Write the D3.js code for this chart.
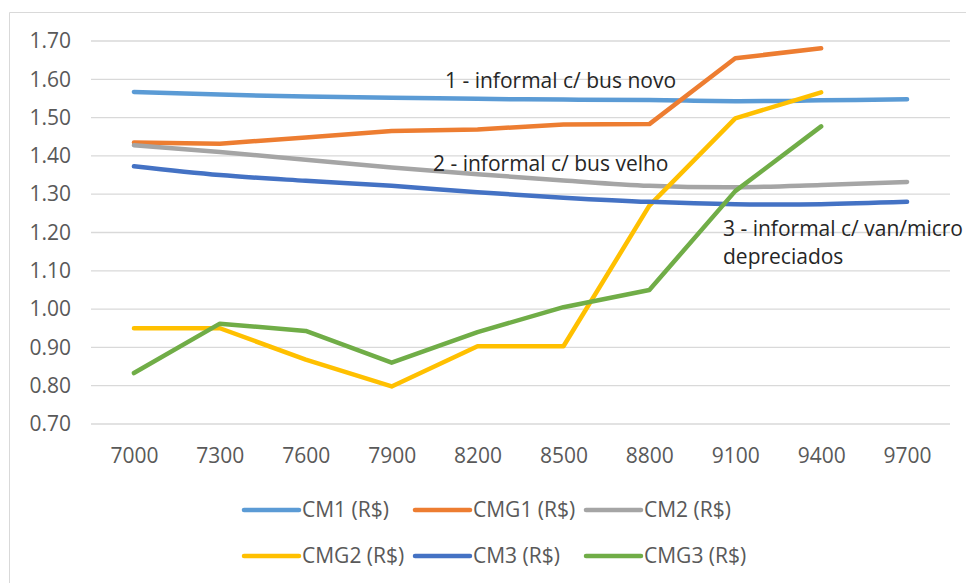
<!DOCTYPE html>
<html>
<head>
<meta charset="utf-8">
<script src="https://cdn.jsdelivr.net/npm/d3@7"></script>
<style>
  html, body { margin: 0; padding: 0; background: #ffffff; }
  svg { display: block; }
  text { font-family: "Open Sans", "Noto Sans", sans-serif; }
</style>
</head>
<body>
<svg id="chart" width="966" height="583"></svg>
<script>
// Renda (R$) no eixo horizontal
const categories = ["7000", "7300", "7600", "7900", "8200", "8500", "8800", "9100", "9400", "9700"];

// Custos médios e marginais por cenário (R$)
const cm1  = [1.567, 1.560, 1.555, 1.552, 1.549, 1.547, 1.546, 1.543, 1.545, 1.548];
const cmg1 = [1.435, 1.432, 1.448, 1.465, 1.469, 1.482, 1.483, 1.655, 1.681, null];
const cm2  = [1.428, 1.410, 1.390, 1.370, 1.352, 1.336, 1.322, 1.318, 1.324, 1.332];
const cmg2 = [0.950, 0.950, 0.868, 0.798, 0.903, 0.903, 1.270, 1.498, 1.566, null];
const cm3  = [1.373, 1.350, 1.335, 1.322, 1.305, 1.291, 1.280, 1.274, 1.274, 1.280];
const cmg3 = [0.833, 0.962, 0.943, 0.860, 0.940, 1.005, 1.050, 1.308, 1.477, null];

const yTicks = [0.70, 0.80, 0.90, 1.00, 1.10, 1.20, 1.30, 1.40, 1.50, 1.60, 1.70];

const seriesNames = ["CM1 (R$)", "CMG1 (R$)", "CM2 (R$)", "CMG2 (R$)", "CM3 (R$)", "CMG3 (R$)"];
const seriesValues = [cm1, cmg1, cm2, cmg2, cm3, cmg3];
const seriesColors = ["#5B9BD5", "#ED7D31", "#A5A5A5", "#FFC000", "#4472C4", "#70AD47"];
const seriesSmooth = [true, false, true, false, true, false];

const annotations = [
  { lines: ["1 - informal c/ bus novo"], x: 445, y: 88 },
  { lines: ["2 - informal c/ bus velho"], x: 433, y: 171 },
  { lines: ["3 - informal c/ van/micro", "depreciados"], x: 723, y: 236 }
];

const svg = d3.select("#chart");

// chart frame
svg.append("path")
  .attr("d", "M9.5,583 V12.5 H966")
  .attr("fill", "none")
  .attr("stroke", "#d9d9d9")
  .attr("stroke-width", 1);

const x = d3.scalePoint().domain(categories).range([91, 950]).padding(0.5);
const y = d3.scaleLinear().domain([0.70, 1.70]).range([424, 41]);

// gridlines
svg.append("g")
  .selectAll("line")
  .data(yTicks)
  .join("line")
  .attr("x1", 91).attr("x2", 950)
  .attr("y1", d => y(d)).attr("y2", d => y(d))
  .attr("stroke", "#d9d9d9")
  .attr("stroke-width", 1.3);

// y axis labels
const yAxis = d3.axisLeft(y).tickValues(yTicks).tickFormat(d3.format(".2f")).tickSize(0).tickPadding(0);
svg.append("g")
  .attr("transform", "translate(71,0)")
  .call(yAxis)
  .call(g => g.select(".domain").remove())
  .call(g => g.selectAll("text")
    .attr("fill", "#595959")
    .style("font-size", "21px")
    .style("font-family", "'Open Sans', sans-serif"));

// x axis labels
const xAxis = d3.axisBottom(x).tickSize(0).tickPadding(0);
svg.append("g")
  .attr("transform", "translate(0,448)")
  .call(xAxis)
  .call(g => g.select(".domain").remove())
  .call(g => g.selectAll("text")
    .attr("fill", "#595959")
    .style("font-size", "21px")
    .style("font-family", "'Open Sans', sans-serif"));

// series lines
const plot = svg.append("g");
seriesValues.forEach((vals, i) => {
  const line = d3.line()
    .defined(d => d != null)
    .x((d, j) => x(categories[j]))
    .y(d => y(d))
    .curve(seriesSmooth[i] ? d3.curveCatmullRom.alpha(0.5) : d3.curveLinear);
  plot.append("path")
    .datum(vals)
    .attr("d", line)
    .attr("fill", "none")
    .attr("stroke", seriesColors[i])
    .attr("stroke-width", 4.5)
    .attr("stroke-linecap", "round")
    .attr("stroke-linejoin", "round");
});

// scenario annotations
annotations.forEach(a => {
  const t = svg.append("text")
    .attr("x", a.x).attr("y", a.y)
    .attr("fill", "#262626")
    .style("font-size", "21px");
  a.lines.forEach((s, k) => {
    t.append("tspan").attr("x", a.x).attr("dy", k === 0 ? 0 : 28).text(s);
  });
});

// legend
const legendPos = [
  { lx: 244, ly: 510 }, { lx: 415, ly: 510 }, { lx: 586, ly: 510 },
  { lx: 244, ly: 556 }, { lx: 415, ly: 556 }, { lx: 586, ly: 556 }
];
const legend = svg.append("g");
seriesNames.forEach((name, i) => {
  const p = legendPos[i];
  legend.append("line")
    .attr("x1", p.lx).attr("x2", p.lx + 55)
    .attr("y1", p.ly).attr("y2", p.ly)
    .attr("stroke", seriesColors[i])
    .attr("stroke-width", 4.5)
    .attr("stroke-linecap", "round");
  legend.append("text")
    .attr("x", p.lx + 58).attr("y", p.ly)
    .attr("dy", "0.35em")
    .attr("fill", "#595959")
    .style("font-size", "21px")
    .text(name);
});
</script>
</body>
</html>
